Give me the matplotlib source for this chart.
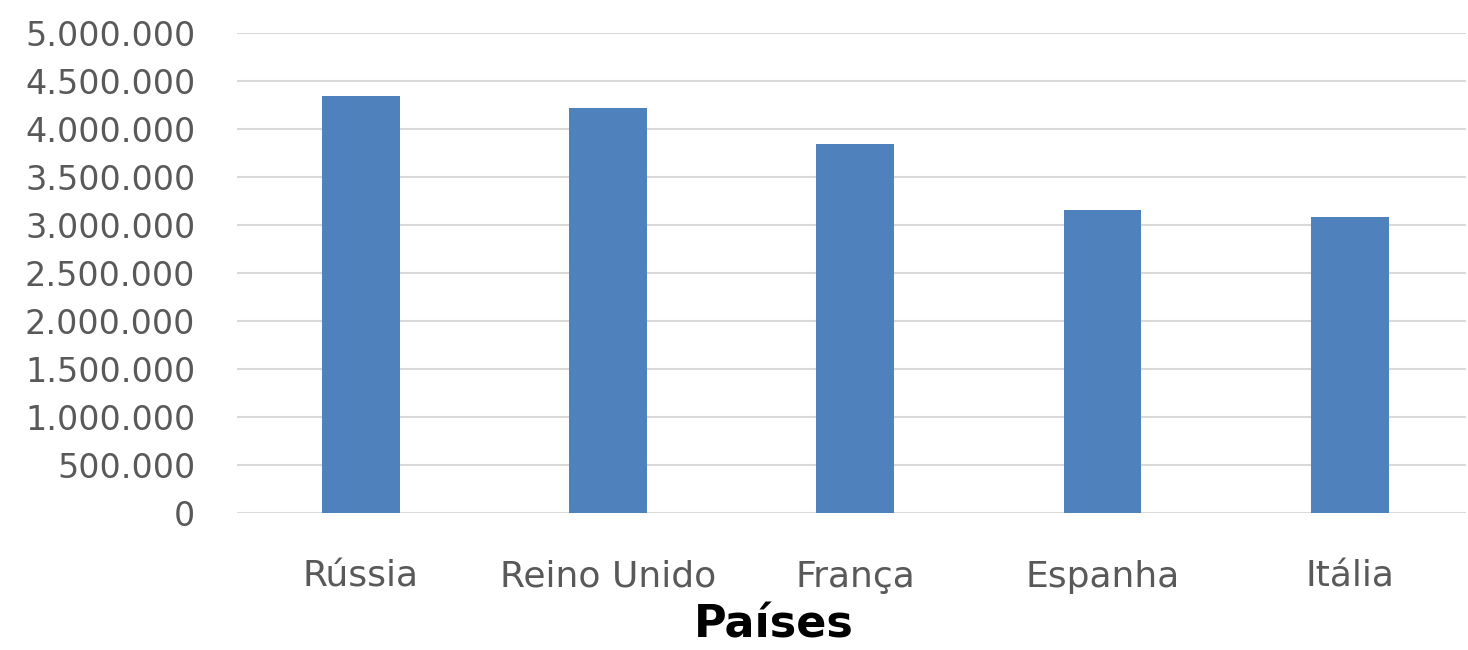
import matplotlib
matplotlib.use("Agg")
import matplotlib.pyplot as plt
from matplotlib.ticker import FuncFormatter, MultipleLocator

categories = ["Rússia", "Reino Unido", "França", "Espanha", "Itália"]
values = [4344000, 4222000, 3841000, 3160000, 3080000]
x_title = "Países"

fig = plt.figure(figsize=(14.68, 6.5), dpi=100)
ax = fig.add_axes([237/1468, 1-513/650, (1466-237)/1468, (513-33)/650])

x = list(range(len(categories)))
ax.bar(x, values, width=0.315, color="#4f81bd", zorder=3)

ax.set_ylim(0, 5000000)
ax.set_xlim(-0.5, 4.47)
ax.yaxis.set_major_locator(MultipleLocator(500000))
ax.yaxis.set_major_formatter(FuncFormatter(lambda v, p: f"{int(v):,}".replace(",", ".")))
ax.grid(axis="y", color="#d9d9d9", linewidth=1.5, zorder=0)
for s in ax.spines.values():
    s.set_visible(False)
ax.tick_params(axis="both", length=0, labelcolor="#595959")
ax.tick_params(axis="y", pad=30, labelsize=24)
ax.tick_params(axis="x", pad=53, labelsize=26)
ax.set_xticks(x)
ax.set_xticklabels(categories, fontfamily="DejaVu Sans", va="baseline")
for lbl in ax.get_yticklabels():
    lbl.set_fontfamily("DejaVu Sans")

fig.text(774/1468, 1-637/650, x_title, ha="center", va="baseline",
         fontsize=32, fontweight="bold", fontfamily="DejaVu Sans", color="black")

fig.savefig("out.png", dpi=100)
